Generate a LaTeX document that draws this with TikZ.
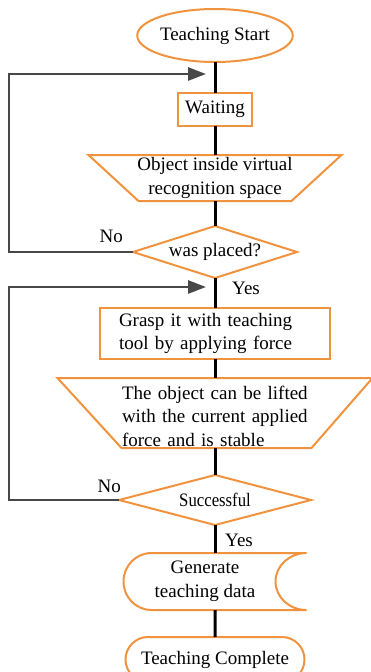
\documentclass[tikz,border=0pt]{standalone}
\usepackage{fontspec}
\setmainfont{Liberation Serif}
\usepackage{tikz}
\usetikzlibrary{positioning,shapes.geometric,shapes.misc,arrows.meta}

\definecolor{floworange}{RGB}{241,147,62}
\definecolor{loopgray}{RGB}{72,72,72}

\tikzset{
    stepfont/.style={font=\fontsize{19pt}{23.5pt}\selectfont},
    terminal/.style={ellipse, draw=floworange, line width=2pt, inner sep=0pt, outer sep=0pt, stepfont},
    process/.style={rectangle, draw=floworange, line width=2pt, inner sep=0pt, outer sep=0pt, stepfont},
    decision/.style={diamond, draw=floworange, line width=2pt, inner sep=0pt, outer sep=0pt, stepfont},
    textarea/.style={inner sep=0pt, outer sep=0pt, stepfont},
    orangeline/.style={draw=floworange, line width=2pt, line join=miter},
    flowline/.style={line width=3pt},
    loopline/.style={draw=loopgray, line width=2.7pt, -{Triangle[length=18pt,width=13pt]}},
    lbl/.style={inner sep=0pt, stepfont},
}

\begin{document}
\begin{tikzpicture}[x=1pt, y=1pt, node distance=28pt]

    \useasboundingbox (0,0) rectangle (371,-672);

    % main column
    \node[terminal, minimum width=137pt, minimum height=53pt] (start) at (215,-35.5) {Teaching Start};
    \node[process, minimum width=74pt, minimum height=33pt, below=31pt of start] (wait) {Waiting};
    \node[textarea, minimum width=253pt, minimum height=46pt, below=29pt of wait, align=center] (inside)
        {Object inside virtual\\recognition space};
    \node[decision, minimum width=164pt, minimum height=52pt, aspect=3.15, below=25pt of inside] (placed) {was placed?};
    \node[process, minimum width=230pt, minimum height=51pt, below=30pt of placed, text width=192pt, align=left] (grasp)
        {Grasp it with teaching\\tool by applying force};
    \node[textarea, minimum width=315pt, minimum height=70pt, below=19pt of grasp, text width=186pt, align=left] (lift)
        {\rule{0pt}{20pt}The object can be lifted\\with the current applied\\force and is stable};
    \node[decision, minimum width=192pt, minimum height=50pt, aspect=3.8, below=27pt of lift] (success)
        {\scalebox{0.88}[1]{Successful}};
    \node[textarea, minimum width=183pt, minimum height=57pt, below=28pt of success, xshift=-10pt, align=center] (gen)
        {Generate\\teaching data};
    \node[rounded rectangle, draw=floworange, line width=2pt, inner sep=0pt, outer sep=0pt, stepfont,
          minimum width=179pt, minimum height=45pt, below=27pt of gen, xshift=10pt] (done) {Teaching Complete};

    % manual input outlines
    \draw[orangeline] (inside.north west) -- (inside.north east) -- ([xshift=-50pt]inside.south east)
        -- ([xshift=50pt]inside.south west) -- cycle;
    \draw[orangeline] (lift.north west) -- (lift.north east) -- ([xshift=-61pt]lift.south east)
        -- ([xshift=64pt]lift.south west) -- cycle;

    % stored data outline
    \draw[orangeline] ([xshift=38pt]gen.north west) -- ([xshift=10pt]gen.north east)
        arc[start angle=90, end angle=270, x radius=31pt, y radius=28.5pt]
        -- ([xshift=38pt]gen.south west)
        arc[start angle=270, end angle=90, x radius=28pt, y radius=28.5pt] -- cycle;

    % straight connectors
    \draw[flowline] (start) -- (wait);
    \draw[flowline] (wait) -- (inside);
    \draw[flowline] (inside) -- (placed);
    \draw[flowline] (placed) -- (grasp);
    \draw[flowline] (grasp) -- (lift);
    \draw[flowline] (lift) -- (success);
    \draw[flowline] (success) -- (success |- gen.north);
    \draw[flowline] (done |- gen.south) -- (done);

    % back loops
    \coordinate (rail) at (9,0);
    \coordinate (back1) at (206,-74);
    \coordinate (back2) at (206,-287);
    \draw[loopline] (placed.west) -- (placed.west -| rail) |- (back1);
    \draw[loopline] (success.west) -- (success.west -| rail) |- (back2);

    % branch labels
    \node[lbl, anchor=south east] (no1) at ([shift={(-10pt,9pt)}]placed.west) {No};
    \node[lbl, anchor=south west] (yes1) at ([shift={(17pt,-17pt)}]placed.south) {Yes};
    \node[lbl, anchor=south east] (no2) at ([shift={(2pt,7pt)}]success.west) {No};
    \node[lbl, anchor=south west] (yes2) at ([shift={(10pt,-22pt)}]success.south) {Yes};

\end{tikzpicture}
\end{document}
